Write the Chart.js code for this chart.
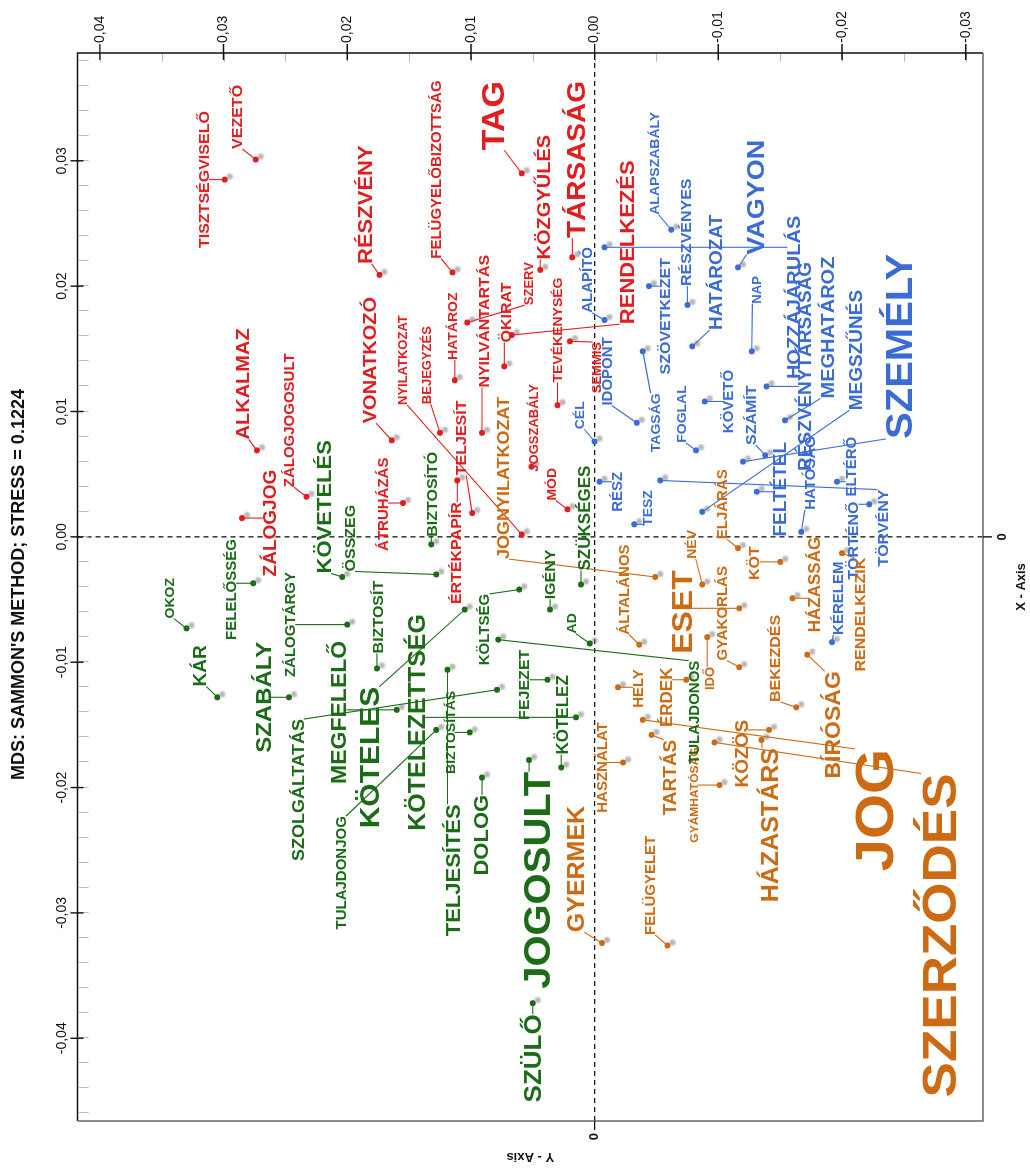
<!DOCTYPE html>
<html>
<head>
<meta charset="utf-8">
<script src="https://cdn.jsdelivr.net/npm/chart.js@4.4.1/dist/chart.umd.min.js"></script>
<style>
  html, body { margin: 0; padding: 0; background: #fff; overflow: hidden; }
  /* the chart is drawn upright and then turned a quarter left, like the original scan */
  #wrap { position: absolute; left: 0; top: 0; width: 1169px; height: 1030px;
          transform-origin: 0 0; transform: translate(0px, 1169px) rotate(-90deg); }
</style>
</head>
<body>
<div id="wrap"><canvas id="mds" width="1169" height="1030"></canvas></div>
<script>
// ---- data ----
const terms = [
  // red
  "TISZTSÉGVISELŐ","VEZETŐ","RÉSZVÉNY","FELÜGYELŐBIZOTTSÁG","TAG","KÖZGYŰLÉS","SZERV","TÁRSASÁG","RENDELKEZÉS","ÖKIRAT",
  "NYILVÁNTARTÁS","HATÁROZ","TEVÉKENYSÉG","JOGSZABÁLY","SEMMIS","VONATKOZÓ","NYILATKOZAT","BEJEGYZÉS","TELJESÍT","ÉRTÉKPAPÍR",
  "ÁTRUHÁZÁS","MÓD","ALKALMAZ","ZÁLOGJOGOSULT","ZÁLOGJOG",
  // blue
  "ALAPSZABÁLY","RÉSZVÉNYES","SZÖVETKEZET","HATÁROZAT","VAGYON","NAP","HOZZÁJÁRULÁS","ALAPÍTÓ","IDŐPONT","TAGSÁG",
  "FOGLAL","KÖVETŐ","SZÁMÍT","RÉSZVÉNYTÁRSASÁG","MEGHATÁROZ","MEGSZŰNÉS","SZEMÉLY","FELTÉTEL","HATÓSÁG","ELTÉRŐ",
  "TÖRTÉNŐ","TÖRVÉNY","KÉRELEM","RÉSZ","TESZ","CÉL",
  // orange
  "JOGNYILATKOZAT","ÁLTALÁNOS","NÉV","ESET","GYAKORLÁS","IDŐ","KÖT","ELJÁRÁS","HÁZASSÁG","BEKEZDÉS",
  "RENDELKEZIK","HELY","ÉRDEK","TARTÁS","KÖZÖS","GYÁMHATÓSÁG","HÁZASTÁRS","BÍRÓSÁG","JOG","SZERZŐDÉS",
  "HASZNÁLAT","GYERMEK","FELÜGYELET",
  // green
  "OKOZ","KÁR","FELELŐSSÉG","ZÁLOGTÁRGY","SZABÁLY","SZOLGÁLTATÁS","TULAJDONJOG","MEGFELELŐ","KÖTELES","KÖTELEZETTSÉG",
  "ÖSSZEG","KÖVETELÉS","BIZTOSÍTÓ","BIZTOSÍT","KÖLTSÉG","IGÉNY","SZÜKSÉGES","AD","FEJEZET","KÖTELEZ",
  "BIZTOSÍTÁS","JOGOSULT","DOLOG","TELJESÍTÉS","SZÜLŐ","TULAJDONOS"
];
const termGroup = [].concat(
  Array(25).fill("red"), Array(26).fill("blue"), Array(23).fill("orange"), Array(26).fill("green")
);

// MDS coordinates of the points
const mdsX = [
  0.0285,0.0301,0.0209,0.0211,0.0290,0.0213,0.0171,0.0223,0.0161,0.0136,
  0.0083,0.0125,0.0105,0.0056,0.0156,0.0077,0.0002,0.0083,0.0019,0.0045,
  0.0027,0.0022,0.0069,0.0032,0.0015,
  0.0245,0.0185,0.0200,0.0152,0.0215,0.0148,0.0231,0.0173,0.0091,0.0148,
  0.0069,0.0108,0.0065,0.0120,0.0093,0.0020,0.0060,0.0036,0.0004,0.0044,
  0.0026,0.0045,-0.0084,0.0044,0.0010,0.0076,
  -0.0032,-0.0086,-0.0038,-0.0057,-0.0104,-0.0080,-0.0020,-0.0009,-0.0049,-0.0136,
  -0.0013,-0.0120,-0.0114,-0.0158,-0.0154,-0.0198,-0.0162,-0.0094,-0.0146,-0.0164,
  -0.0180,-0.0324,-0.0326,
  -0.0073,-0.0128,-0.0037,-0.0070,-0.0128,-0.0122,-0.0154,-0.0138,-0.0058,-0.0144,
  -0.0030,-0.0032,-0.0006,-0.0105,-0.0042,-0.0058,-0.0038,-0.0085,-0.0114,-0.0184,
  -0.0156,-0.0178,-0.0192,-0.0106,-0.0372,-0.0082
];
const mdsY = [
  0.0299,0.0274,0.0174,0.0115,0.0059,0.0044,0.0103,0.0018,0.0067,0.0073,
  0.0091,0.0113,0.0030,0.0051,0.0020,0.0164,0.0059,0.0125,0.0099,0.0111,
  0.0155,0.0022,0.0273,0.0233,0.0285,
  -0.0062,-0.0075,-0.0044,-0.0079,-0.0116,-0.0127,-0.0008,-0.0008,-0.0034,-0.0039,
  -0.0082,-0.0089,-0.0138,-0.0139,-0.0154,-0.0087,-0.0120,-0.0131,-0.0167,-0.0196,
  -0.0222,-0.0053,-0.0192,-0.0004,-0.0032,0.0000,
  -0.0049,-0.0036,-0.0087,-0.0117,-0.0117,-0.0091,-0.0150,-0.0116,-0.0160,-0.0163,
  -0.0200,-0.0019,-0.0074,-0.0046,-0.0141,-0.0101,-0.0135,-0.0172,-0.0039,-0.0097,
  -0.0023,-0.0006,-0.0059,
  0.0330,0.0305,0.0276,0.0200,0.0247,0.0079,0.0128,0.0160,0.0105,0.0015,
  0.0128,0.0204,0.0132,0.0176,0.0061,0.0036,0.0011,0.0004,0.0038,0.0027,
  0.0101,0.0053,0.0091,0.0119,0.0050,0.0078
];

// where each word label sits, in the same units
const labelX = [
  0.0285,0.0335,0.0265,0.0293,0.0336,0.0271,0.0202,0.0301,0.0235,0.0179,
  0.0172,0.0168,0.0165,0.0087,0.0135,0.0141,0.0141,0.0137,0.0079,-0.0013,
  0.0026,0.0042,0.0122,0.0093,0.0011,
  0.0298,0.0243,0.0176,0.0211,0.0271,0.0197,0.0191,0.0205,0.0132,0.0091,
  0.0098,0.0108,0.0097,0.0136,0.0167,0.0149,0.0152,0.0038,0.0051,0.0056,
  -0.0003,0.0007,-0.0049,0.0036,0.0023,0.0097,
  0.0047,-0.0042,-0.0006,-0.0060,-0.0061,-0.0113,-0.0021,0.0026,-0.0038,-0.0097,
  -0.0062,-0.0121,-0.0128,-0.0192,-0.0173,-0.0206,-0.0230,-0.0150,-0.0218,-0.0318,
  -0.0184,-0.0265,-0.0278,
  -0.0049,-0.0103,-0.0042,-0.0070,-0.0128,-0.0202,-0.0268,-0.0140,-0.0176,-0.0148,
  -0.0001,0.0024,0.0034,-0.0064,-0.0074,-0.0030,0.0015,-0.0069,-0.0118,-0.0142,
  -0.0156,-0.0274,-0.0238,-0.0266,-0.0416,-0.0140
];
const labelY = [
  0.0316,0.0289,0.0186,0.0128,0.0082,0.0041,0.0053,0.0015,-0.0026,0.0072,
  0.0090,0.0115,0.0030,0.0049,-0.0002,0.0182,0.0155,0.0136,0.0108,0.0112,
  0.0171,0.0035,0.0285,0.0247,0.0263,
  -0.0048,-0.0074,-0.0057,-0.0098,-0.0130,-0.0131,-0.0161,0.0006,-0.0010,-0.0049,
  -0.0070,-0.0108,-0.0126,-0.0170,-0.0188,-0.0211,-0.0246,-0.0150,-0.0174,-0.0207,
  -0.0209,-0.0233,-0.0197,-0.0018,-0.0043,0.0012,
  0.0074,-0.0024,-0.0078,-0.0070,-0.0103,-0.0093,-0.0129,-0.0103,-0.0178,-0.0146,
  -0.0214,-0.0035,-0.0058,-0.0061,-0.0119,-0.0080,-0.0142,-0.0192,-0.0226,-0.0278,
  -0.0006,0.0015,-0.0045,
  0.0344,0.0319,0.0294,0.0246,0.0268,0.0240,0.0205,0.0207,0.0182,0.0144,
  0.0198,0.0219,0.0132,0.0175,0.0089,0.0036,0.0008,0.0019,0.0057,0.0026,
  0.0117,0.0047,0.0092,0.0115,0.0050,-0.0080
];

const xTicks = [-0.04, -0.03, -0.02, -0.01, 0, 0.01, 0.02, 0.03];
const yTicks = [-0.03, -0.02, -0.01, 0, 0.01, 0.02, 0.03, 0.04];

// ---- style ----
const labelSize = [
  16,16,22,15,34,20,13,28,22,16, 16,14,14,13,13,20,13,13,16,16, 15,14,20,15,19,
  14,16,16,19,27,13,20,15,15,14, 14,15,16,19,20,19,40,19,15,15, 16,16,15,15,14,14,
  18,15,14,32,15,13,16,15,17,16, 16,15,17,19,19,12,25,23,58,53, 15,25,15,
  14,19,15,15,24,18,15,23,30,25, 16,22,16,16,15,16,17,14,16,17, 14,40,22,22,26,15
];
const groupColor = { red: "#e21d1f", blue: "#3b6cd6", orange: "#cd6a14", green: "#1b6b17" };
const FONT = '"Liberation Sans", Arial, Helvetica, sans-serif';
const SQUASH = 0.92;
const xMin = -0.0466, xMax = 0.0386, yMin = -0.0314, yMax = 0.0418;

Chart.defaults.font.family = FONT;

const fmt = (v) => (Math.abs(v) < 1e-9 ? "0,00" : v.toFixed(2).replace(".", ","));

function labelBox(ctx, chart, i) {
  const cx = chart.scales.x.getPixelForValue(labelX[i]);
  const cy = chart.scales.y.getPixelForValue(labelY[i]);
  ctx.font = `bold ${labelSize[i]}px ${FONT}`;
  const w = ctx.measureText(terms[i]).width;
  const h = labelSize[i] * 0.716 * SQUASH;
  return { cx, cy, w, h };
}

const mdsLayer = {
  id: "mdsLayer",
  beforeDatasetsDraw(chart) {
    const { ctx, chartArea: a, scales } = chart;
    const x0 = scales.x.getPixelForValue(0), y0 = scales.y.getPixelForValue(0);
    ctx.save();
    // dashed zero lines
    ctx.strokeStyle = "#111";
    ctx.lineWidth = 1.3;
    ctx.setLineDash([5, 4]);
    ctx.beginPath();
    ctx.moveTo(x0, a.top); ctx.lineTo(x0, a.bottom);
    ctx.moveTo(a.left, y0); ctx.lineTo(a.right, y0);
    ctx.stroke();
    ctx.setLineDash([]);
    // leader lines from point to its word
    ctx.lineWidth = 1.1;
    terms.forEach((t, i) => {
      const px = scales.x.getPixelForValue(mdsX[i]);
      const py = scales.y.getPixelForValue(mdsY[i]);
      const b = labelBox(ctx, chart, i);
      const nx = Math.min(Math.max(px, b.cx - b.w / 2), b.cx + b.w / 2);
      const ny = Math.min(Math.max(py, b.cy - b.h / 2), b.cy + b.h / 2);
      if (Math.hypot(nx - px, ny - py) > 3) {
        ctx.strokeStyle = groupColor[termGroup[i]];
        ctx.beginPath();
        ctx.moveTo(px, py);
        ctx.lineTo(nx, ny);
        ctx.stroke();
      }
    });
    ctx.restore();
    // grey drop shadow under the dots
    ctx.save();
    ctx.shadowColor = "rgba(120,120,120,0.55)";
    ctx.shadowOffsetX = 3;
    ctx.shadowOffsetY = 5;
    ctx.shadowBlur = 2;
  },
  afterDatasetsDraw(chart) {
    const { ctx } = chart;
    ctx.restore();
    ctx.save();
    ctx.textAlign = "center";
    ctx.textBaseline = "alphabetic";
    terms.forEach((t, i) => {
      const b = labelBox(ctx, chart, i);
      ctx.save();
      ctx.fillStyle = groupColor[termGroup[i]];
      ctx.translate(b.cx, b.cy);
      ctx.scale(1, SQUASH);
      ctx.fillText(t, 0, (labelSize[i] * 0.716) / 2);
      ctx.restore();
    });
    ctx.restore();
  },
  afterDraw(chart) {
    const { ctx, chartArea: a, scales } = chart;
    const xs = scales.x, ys = scales.y;
    ctx.save();
    ctx.lineWidth = 1.5;
    // frame: dark on top/right, grey on bottom/left
    ctx.strokeStyle = "#111";
    ctx.beginPath();
    ctx.moveTo(a.left, a.top); ctx.lineTo(a.right, a.top); ctx.lineTo(a.right, a.bottom);
    ctx.stroke();
    ctx.strokeStyle = "#666";
    ctx.beginPath();
    ctx.moveTo(a.right, a.bottom); ctx.lineTo(a.left, a.bottom); ctx.lineTo(a.left, a.top);
    ctx.stroke();
    // minor ticks
    ctx.strokeStyle = "#bbb";
    ctx.lineWidth = 1;
    ctx.beginPath();
    for (let v = -0.046; v <= xMax; v += 0.002) {
      const px = Math.round(xs.getPixelForValue(v)) + 0.5;
      ctx.moveTo(px, a.top + 1); ctx.lineTo(px, a.top + 11);
    }
    for (let v = -0.03; v <= yMax; v += 0.005) {
      const py = Math.round(ys.getPixelForValue(v)) + 0.5;
      ctx.moveTo(a.right - 1, py); ctx.lineTo(a.right - 9, py);
    }
    ctx.stroke();
    // major ticks
    ctx.strokeStyle = "#111";
    ctx.lineWidth = 1.4;
    ctx.beginPath();
    xTicks.forEach((v) => {
      const px = xs.getPixelForValue(v);
      ctx.moveTo(px, a.top - 7); ctx.lineTo(px, a.top + 6);
    });
    yTicks.forEach((v) => {
      const py = ys.getPixelForValue(v);
      ctx.moveTo(a.right + 9, py); ctx.lineTo(a.right - 7, py);
    });
    const x0 = xs.getPixelForValue(0), y0 = ys.getPixelForValue(0);
    ctx.moveTo(x0, a.bottom); ctx.lineTo(x0, a.bottom + 9);
    ctx.moveTo(a.left, y0); ctx.lineTo(a.left - 9, y0);
    ctx.stroke();
    ctx.restore();
  }
};

const noGrid = { display: false, drawTicks: false };

const ctx = document.getElementById("mds").getContext("2d");
new Chart(ctx, {
  type: "scatter",
  data: {
    datasets: [
      {
        data: terms.map((t, i) => ({ x: mdsX[i], y: mdsY[i] })),
        pointRadius: 3,
        pointHoverRadius: 3,
        pointBorderWidth: 0,
        pointBackgroundColor: termGroup.map((g) => groupColor[g]),
        xAxisID: "x",
        yAxisID: "y",
      },
    ],
  },
  options: {
    responsive: false,
    animation: false,
    devicePixelRatio: 1,
    layout: { padding: 0 },
    events: [],
    scales: {
      x: {
        type: "linear", position: "bottom", min: xMin, max: xMax,
        afterBuildTicks: (s) => { s.ticks = [{ value: 0 }]; },
        afterFit: (s) => { s.height = 47; },
        grid: noGrid, border: { display: false },
        ticks: { autoSkip: false, maxRotation: 0, callback: () => "0", padding: 12, color: "#111", font: { size: 13, weight: "bold" } },
        title: { display: true, text: "X - Axis", color: "#111", font: { size: 13, weight: "bold" }, padding: { top: 0, bottom: 1 } },
      },
      y: {
        type: "linear", position: "left", min: yMin, max: yMax,
        afterBuildTicks: (s) => { s.ticks = [{ value: 0 }]; },
        afterFit: (s) => { s.width = 48; },
        grid: noGrid, border: { display: false },
        ticks: { autoSkip: false, callback: () => "0", padding: 12, color: "#111", font: { size: 13, weight: "bold" } },
        title: { display: true, text: "Y - Axis", color: "#111", font: { size: 13, weight: "bold" }, padding: { top: 5, bottom: 0 } },
      },
      x2: {
        type: "linear", axis: "x", position: "top", min: xMin, max: xMax,
        afterBuildTicks: (s) => { s.ticks = xTicks.map((v) => ({ value: v })); },
        afterFit: (s) => { s.height = 48; },
        grid: noGrid, border: { display: false },
        ticks: { autoSkip: false, maxRotation: 0, callback: (v) => fmt(v), padding: 7, color: "#111", font: { size: 14 } },
      },
      y2: {
        type: "linear", axis: "y", position: "right", min: yMin, max: yMax,
        afterBuildTicks: (s) => { s.ticks = yTicks.map((v) => ({ value: v })); },
        afterFit: (s) => { s.width = 53; },
        grid: noGrid, border: { display: false },
        ticks: { autoSkip: false, callback: (v) => fmt(v), padding: 10, color: "#111", font: { size: 14 } },
      },
    },
    plugins: {
      legend: { display: false },
      tooltip: { enabled: false },
      title: {
        display: true,
        text: "MDS: SAMMON'S METHOD; STRESS = 0.1224",
        color: "#111",
        font: { size: 18, weight: "bold" },
        padding: { top: 8, bottom: 0 },
      },
    },
  },
  plugins: [mdsLayer],
});
</script>
</body>
</html>
